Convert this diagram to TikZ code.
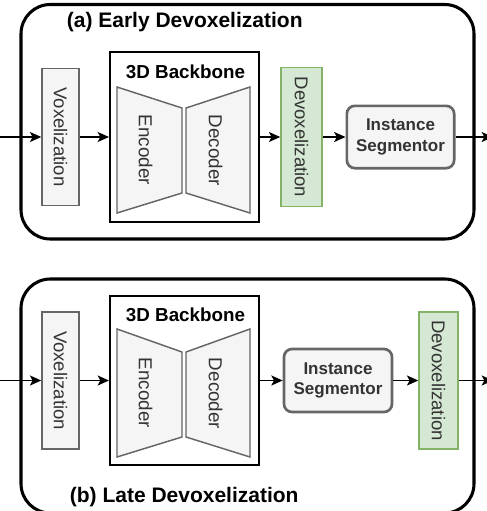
\documentclass[tikz,border=0pt]{standalone}
\usepackage{fontspec}
\setmainfont{Liberation Sans}
\usetikzlibrary{arrows.meta}
\definecolor{dgray}{HTML}{F5F5F5}
\definecolor{dline}{HTML}{666666}
\definecolor{dtext}{HTML}{333333}
\definecolor{dgreen}{HTML}{D5E8D4}
\definecolor{dgline}{HTML}{82B366}

\begin{document}
\begin{tikzpicture}[x=0.75pt, y=-0.75pt, >={Stealth[length=8.5pt,width=7.5pt,inset=2pt]}, line width=1.3pt,
  panel/.style={draw=black, line width=2.3pt, rounded corners=22pt},
  stage/.style={draw=dline, fill=dgray, text=dtext, line width=1.1pt, rotate=-90, inner sep=0pt,
    minimum width=102.75pt, minimum height=27.75pt, font=\fontsize{13.9}{16}\selectfont},
  devox/.style={stage, draw=dgline, fill=dgreen},
  coder/.style={draw=dline, fill=dgray, line width=1.1pt},
  codertext/.style={text=dtext, rotate=-90, inner sep=0pt, font=\fontsize{14.1}{16}\selectfont},
  backbone/.style={draw=black, line width=1.5pt, inner sep=0pt, minimum width=111.75pt},
  segbox/.style={draw=dline, fill=dgray, text=dtext, line width=2pt, rounded corners=6pt, align=center,
    inner sep=0pt, minimum width=80.5pt, minimum height=46.75pt, font=\bfseries\fontsize{12.75}{15.5}\selectfont},
  title/.style={anchor=west, inner sep=0pt, font=\bfseries\fontsize{15.75}{18}\selectfont},
  bbtitle/.style={inner sep=0pt, font=\bfseries\fontsize{14.1}{16}\selectfont}]
  \useasboundingbox (0,0) rectangle (486,511);

  % (a) early devoxelization
  \draw[panel] (21,4.5) rectangle (474,239);
  \node[title] (tA) at (66,22) {(a) Early Devoxelization};

  \node[stage] (voxA) at (60.5,137) {Voxelization};
  \node[backbone, minimum height=127.5pt] (bbA) at (184.5,137) {};
  \node[bbtitle] (bbtA) at (185.5,72) {3D Backbone};
  \draw[coder] (117,87) -- (182,108) -- (182,193) -- (117,213) -- cycle;
  \draw[coder] (186,108) -- (250,87) -- (250,213) -- (186,193) -- cycle;
  \node[codertext] (encA) at (145.5,150) {Encoder};
  \node[codertext] (decA) at (215.5,150.5) {Decoder};
  \node[devox, minimum width=104.25pt, minimum height=30.75pt] (devA) at (301.5,137) {Devoxelization};
  \node[segbox] (segA) at (400.5,137) {Instance\\Segmentor};

  \coordinate (inA) at (-4,137);
  \coordinate (outA) at (493,137);
  \draw[->] (inA) -- (voxA);
  \draw[->] (voxA) -- (bbA);
  \draw[->] (bbA) -- (devA);
  \draw[->] (devA) -- (segA);
  \draw[->] (segA) -- (outA);

  % (b) late devoxelization
  \draw[panel] (21,279) rectangle (474,513);
  \node[title] (tB) at (69,497) {(b) Late Devoxelization};

  \node[stage] (voxB) at (60.5,380.5) {Voxelization};
  \node[backbone, minimum height=126.75pt] (bbB) at (184.5,380.5) {};
  \node[bbtitle] (bbtB) at (185.5,315) {3D Backbone};
  \draw[coder] (117,329) -- (182,352) -- (182,437) -- (117,457) -- cycle;
  \draw[coder] (186,352) -- (250,329) -- (250,457) -- (186,437) -- cycle;
  \node[codertext] (encB) at (145.5,393) {Encoder};
  \node[codertext] (decB) at (215.5,393.5) {Decoder};
  \node[segbox, minimum width=81pt, minimum height=47.25pt] (segB) at (338,380.5) {Instance\\Segmentor};
  \node[devox, minimum height=29.25pt] (devB) at (438.5,380.5) {Devoxelization};

  \coordinate (inB) at (-4,380.5);
  \coordinate (outB) at (493,380.5);
  \draw[->] (inB) -- (voxB);
  \draw[->] (voxB) -- (bbB);
  \draw[->] (bbB) -- (segB);
  \draw[->] (segB) -- (devB);
  \draw[->] (devB) -- (outB);
\end{tikzpicture}
\end{document}
